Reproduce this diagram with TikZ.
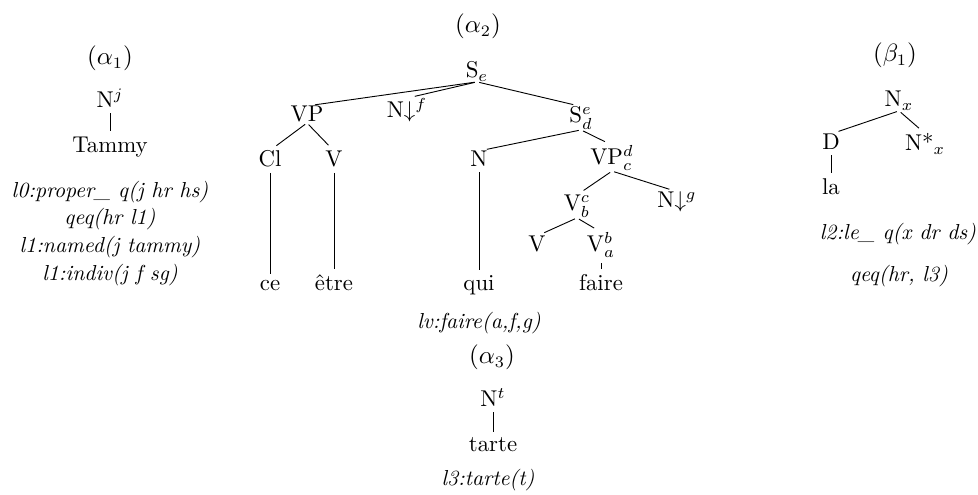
\documentclass[tikz,border=0pt]{standalone}
\usepackage{tikz}
\usetikzlibrary{positioning}
\tikzset{
  cat/.style      = {inner sep=0pt, anchor=base},
  word/.style     = {inner sep=0pt, anchor=base},
  sem/.style      = {inner sep=0pt, anchor=base, font=\fontsize{9.5}{11}\selectfont\itshape},
  treename/.style = {inner sep=0pt, anchor=base, font=\fontsize{10.5}{12}\selectfont},
  branch/.style   = {draw=black, line width=0.4pt, shorten <=1pt, shorten >=3.5pt},
  leaf/.style     = {draw=black, line width=0.4pt, shorten <=2.2pt, shorten >=2.6pt},
}
\begin{document}
\begin{tikzpicture}[x=0.0154cm,y=-0.0154cm]
  \useasboundingbox (0,0) rectangle (978,495);

  % ----- alpha 1 -----
  \node[treename] (a1) at (110,65) {$(\alpha_1)$};
  \node[cat] (a1N) at (110,108) {N$^j$};
  \node[word] (a1w) at (110,153) {Tammy};
  \draw[leaf] (a1N.south) -- (a1w.north);
  \foreach \i/\t/\y in {1/{l0:proper\_ q(j hr hs)}/198, 2/{qeq(hr l1)}/225,
                        3/{l1:named(j tammy)}/253, 4/{l1:indiv(j f sg)}/281} {
    \node[sem] (a1s\i) at (110,\y) {\t};
  }

  % ----- alpha 2 -----
  \node[treename] (a2) at (478,33) {$(\alpha_2)$};
  \node[cat] (Se) at (477,78) {S$_e$};
  \node[cat] (VP) at (307,122) {VP};
  \node[cat] (Nf) at (407,118) {N$\downarrow^f$};
  \node[cat] (Sd) at (581,123) {S$^e_d$};
  \node[cat] (Cl) at (270,167) {Cl};
  \node[cat] (V1) at (334,167) {V};
  \node[cat] (N2) at (479,167) {N};
  \node[cat] (VPc) at (612,165) {VP$^d_c$};
  \node[cat] (Vb) at (577,211) {V$^c_b$};
  \node[cat] (Ng) at (677,208) {N$\downarrow^g$};
  \node[cat] (V2) at (537,252) {V};
  \node[cat] (Va) at (601,252) {V$^b_a$};
  \node[word] (ce) at (270,291) {ce};
  \node[word] (etre) at (334,291) {être};
  \node[word] (qui) at (479,291) {qui};
  \node[word] (faire) at (601,291) {faire};

  \foreach \p/\c in {Se/VP, Se/Nf, Se/Sd, VP/Cl, VP/V1, Sd/N2, Sd/VPc,
                     VPc/Vb, VPc/Ng, Vb/V2, Vb/Va} {
    \draw[branch] (\p.south) -- (\c.north);
  }
  \foreach \p/\c in {Cl/ce, V1/etre, N2/qui, Va/faire} {
    \draw[leaf] (\p.south) -- (\c.north);
  }

  \node[sem] (a2s) at (479,329) {lv:faire(a,f,g)};

  % ----- alpha 3 -----
  \node[treename] (a3) at (492,364) {$(\alpha_3)$};
  \node[cat] (a3N) at (493,407) {N$^t$};
  \node[word] (a3w) at (493,452) {tarte};
  \draw[leaf] (a3N.south) -- (a3w.north);
  \node[sem] (a3s) at (488,486) {l3:tarte(t)};

  % ----- beta 1 -----
  \node[treename] (b1) at (895,62) {$(\beta_1)$};
  \node[cat] (Nx) at (899,107) {N$_x$};
  \node[cat] (D) at (831,150) {D};
  \node[cat] (Nstar) at (925,151) {N*$_x$};
  \node[word] (la) at (831,195) {la};
  \draw[branch] (Nx.south) -- (D.north);
  \draw[branch] (Nx.south) -- (Nstar.north);
  \draw[leaf] (D.south) -- (la.north);
  \node[sem] (b1s1) at (898,240) {l2:le\_ q(x dr ds)};
  \node[sem] (b1s2) at (899,282) {qeq(hr, l3)};
\end{tikzpicture}
\end{document}
